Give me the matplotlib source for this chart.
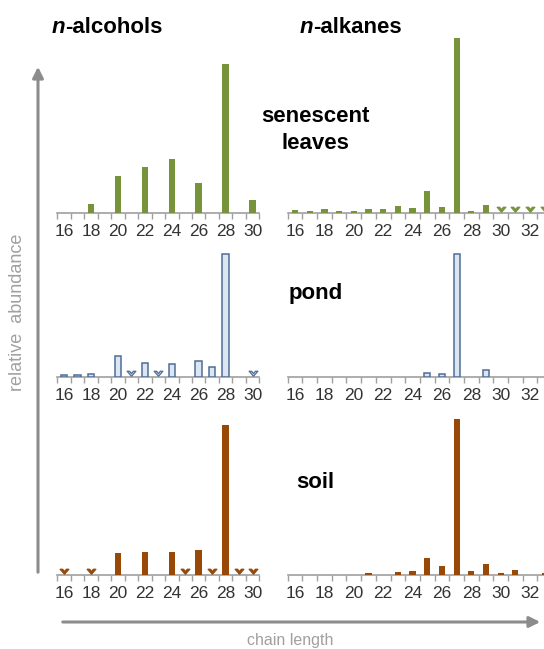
import numpy as np
import matplotlib
matplotlib.use('Agg')
import matplotlib.pyplot as plt
from matplotlib.path import Path
from matplotlib.patches import FancyArrowPatch

plt.rcParams['font.family'] = ['Liberation Sans', 'DejaVu Sans']

# chain lengths (categories)
alcohol_chains = list(range(16, 31))
alkane_chains = list(range(16, 34))
alcohol_labels = [str(c) if c % 2 == 0 else '' for c in alcohol_chains]
alkane_labels = [str(c) if c % 2 == 0 else '' for c in alkane_chains]

# relative abundance (arbitrary units)
leaves_alcohols = [0, 0, 9, 0, 37, 0, 46, 0, 54, 0, 30, 0, 149, 0, 13]
leaves_alkanes = [2.5, 2.3, 3.7, 2.3, 2.3, 3.7, 3.7, 7, 4.7, 21.7, 6, 175, 2.3, 8, 0, 0, 0, 0]
pond_alcohols = [2, 2, 3, 0, 21, 0, 13.7, 0, 12.7, 0, 15.7, 10.3, 123, 0, 0]
pond_alkanes = [0, 0, 0, 0, 0, 0, 0, 0, 0, 4, 3, 123, 0, 7.3, 0, 0, 0, 0]
soil_alcohols = [0, 0, 0, 0, 21.3, 0, 22.3, 0, 22.3, 0, 24.3, 0, 149.7, 0, 0]
soil_alkanes = [0, 0, 0, 0, 0, 1.3, 0, 2.7, 3.7, 16.7, 8.3, 156, 3.7, 10.3, 1.3, 4.7, 0, 1.3]

# not detected (chevron markers)
leaves_alcohols_nd = []
leaves_alkanes_nd = [30, 31, 32, 33]
pond_alcohols_nd = [21, 23, 30]
pond_alkanes_nd = []
soil_alcohols_nd = [16, 18, 25, 27, 29, 30]
soil_alkanes_nd = []

green = '#77933c'
brown = '#984807'
pond_fill = '#dce6f2'
pond_edge = '#4f6d96'
gray = '#a0a0a0'

chevron = Path([(-0.7, 1.0), (-0.3, 1.0), (0.0, 0.62), (0.3, 1.0), (0.7, 1.0),
                (0.0, 0.2), (-0.7, 1.0)],
               [Path.MOVETO] + [Path.LINETO] * 5 + [Path.CLOSEPOLY])

W, H = 544, 649
fig = plt.figure(figsize=(W / 100, H / 100), dpi=100)

AX_H = 185  # px, axis height; y units = px


def panel(left_px, width_px, baseline_px, chains, labels, values, nd,
          fc, ec, lw, bar_w):
    ax = fig.add_axes([left_px / W, 1 - baseline_px / H, width_px / W, AX_H / H])
    ax.patch.set_alpha(0)
    xs = [c for c, v in zip(chains, values) if v > 0]
    vs = [v for v in values if v > 0]
    ax.bar(xs, vs, width=bar_w, color=fc, edgecolor=ec, linewidth=lw,
           zorder=3)
    if nd:
        ax.plot(nd, np.zeros(len(nd)), linestyle='none', marker=chevron,
                ms=9, mfc=fc, mec=ec if lw > 0 else fc, mew=0.9,
                clip_on=False, zorder=4)
    ax.set_xlim(chains[0] - 0.5, chains[-1] + 0.5)
    ax.set_ylim(0, AX_H)
    for s in ['top', 'right', 'left']:
        ax.spines[s].set_visible(False)
    ax.spines['bottom'].set_color(gray)
    ax.spines['bottom'].set_linewidth(1.2)
    ax.set_yticks([])
    ax.set_xticks(chains)
    ax.set_xticklabels(labels)
    ax.set_xticks(np.arange(chains[0] - 0.5, chains[-1] + 1), minor=True)
    ax.tick_params(axis='x', which='major', length=0, pad=8, labelsize=12.5,
                   labelcolor='#333333')
    ax.tick_params(axis='x', which='minor', length=4, width=1, color=gray,
                   direction='out')
    return ax


rows = [
    (213, leaves_alcohols, leaves_alcohols_nd, leaves_alkanes, leaves_alkanes_nd,
     green, 'none', 0),
    (377, pond_alcohols, pond_alcohols_nd, pond_alkanes, pond_alkanes_nd,
     pond_fill, pond_edge, 1.1),
    (574.5, soil_alcohols, soil_alcohols_nd, soil_alkanes, soil_alkanes_nd,
     brown, 'none', 0),
]
for base, alc, alc_nd, alk, alk_nd, fc, ec, lw in rows:
    panel(57.3, 202, base, alcohol_chains, alcohol_labels, alc, alc_nd,
          fc, ec, lw, 0.48)
    panel(287.7, 264.4, base, alkane_chains, alkane_labels, alk, alk_nd,
          fc, ec, lw, 0.42)

# column titles: italic bold "n" followed by bold rest
for x_px, rest in [(52, '-alcohols'), (300, '-alkanes')]:
    t = fig.text(x_px / W, 1 - 33 / H, 'n', fontsize=16, fontweight='bold',
                 fontstyle='italic', va='baseline', ha='left')
    fig.axes[0].annotate(rest, xy=(1, 0), xycoords=t, va='bottom', ha='left',
                         fontsize=16, fontweight='bold', annotation_clip=False)

# row labels
fig.text(315 / W, 1 - 130 / H, 'senescent\nleaves', fontsize=16,
         fontweight='bold', ha='center', va='center', linespacing=1.4)
fig.text(316 / W, 1 - 294 / H, 'pond', fontsize=16, fontweight='bold',
         ha='center', va='center')
fig.text(315 / W, 1 - 482 / H, 'soil', fontsize=16, fontweight='bold',
         ha='center', va='center')

# axis arrows
arrow_kw = dict(arrowstyle='-|>', mutation_scale=16, color='#8c8c8c',
                linewidth=2.2, transform=fig.transFigure)
fig.add_artist(FancyArrowPatch((38 / W, 1 - 575 / H), (38 / W, 1 - 64 / H),
                               **arrow_kw))
fig.add_artist(FancyArrowPatch((60 / W, 1 - 622 / H), (543 / W, 1 - 622 / H),
                               **arrow_kw))
fig.text(18 / W, 1 - 312 / H, 'relative  abundance', rotation=90,
         fontsize=13, color=gray, ha='center', va='center')
fig.text(290 / W, 1 - 640 / H, 'chain length', fontsize=11.5, color=gray,
         ha='center', va='center')

fig.savefig('out.png', dpi=100)
